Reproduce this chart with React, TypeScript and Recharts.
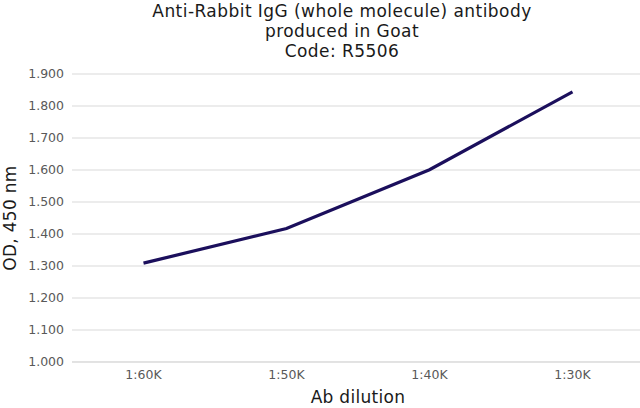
import { CartesianGrid, Line, LineChart, XAxis, YAxis } from "recharts";

const dilutions = ["1:60K", "1:50K", "1:40K", "1:30K"];
const odValues = [1.309, 1.417, 1.601, 1.844];
const yTicks = [1.0, 1.1, 1.2, 1.3, 1.4, 1.5, 1.6, 1.7, 1.8, 1.9];
const titleLines = ["Anti-Rabbit IgG (whole molecule) antibody", "produced in Goat", "Code: R5506"];

const data = dilutions.map((name, i) => ({ name, od: odValues[i] }));

const FONT = "'DejaVu Sans', Verdana, sans-serif";
const GRID = "#d9d9d9";
const TICK = "#595959";
const INK = "#1a1a1a";

export default function App() {
  return (
    <div
      style={{
        position: "absolute",
        left: 0,
        top: 0,
        width: 640,
        height: 408,
        overflow: "hidden",
        background: "#fff",
        fontFamily: FONT,
      }}
    >
      <div
        style={{
          position: "absolute",
          top: 1,
          left: 0,
          width: 684,
          textAlign: "center",
          fontSize: 17,
          letterSpacing: "0.45px",
          lineHeight: "20px",
          color: INK,
        }}
      >
        {titleLines.map((t) => (
          <div key={t}>{t}</div>
        ))}
      </div>
      <LineChart
        width={644}
        height={408}
        data={data}
        margin={{ top: 74, right: 0, bottom: 0, left: 0 }}
      >
        <CartesianGrid vertical={false} stroke={GRID} strokeWidth={1} />
        <XAxis
          dataKey="name"
          padding={{ left: 71.5, right: 71.5 }}
          height={46}
          tickLine={false}
          axisLine={{ stroke: GRID }}
          tick={{ fill: TICK, fontSize: 12.5, fontFamily: FONT }}
          label={{
            content: ({ viewBox }: any) => (
              <text
                x={viewBox.x + viewBox.width / 2}
                y={403}
                textAnchor="middle"
                fill={INK}
                fontSize={17}
                letterSpacing={0.3}
                fontFamily={FONT}
              >
                Ab dilution
              </text>
            ),
          }}
        />
        <YAxis
          width={72}
          domain={[1, 1.9]}
          ticks={yTicks}
          interval={0}
          tickFormatter={(v: number) => v.toFixed(3)}
          tickLine={false}
          axisLine={false}
          tick={{ fill: TICK, fontSize: 12.5, fontFamily: FONT }}
          label={{
            content: ({ viewBox }: any) => {
              const cy = viewBox.y + viewBox.height / 2;
              return (
                <text
                  x={16}
                  y={cy}
                  transform={`rotate(-90, 16, ${cy})`}
                  textAnchor="middle"
                  fill={INK}
                  fontSize={17}
                  letterSpacing={0.3}
                  fontFamily={FONT}
                >
                  OD, 450 nm
                </text>
              );
            },
          }}
        />
        <Line
          type="linear"
          dataKey="od"
          stroke="#1b0f5c"
          strokeWidth={3.2}
          dot={false}
          activeDot={false}
          isAnimationActive={false}
        />
      </LineChart>
    </div>
  );
}
